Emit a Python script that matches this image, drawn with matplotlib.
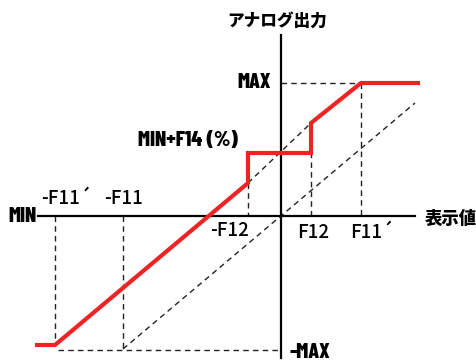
import matplotlib
matplotlib.use('Agg')
import matplotlib.pyplot as plt

# chart units: origin at the axis crossing, y up
MAX_Y = 133
MIN_MAX_Y = -133
F14_Y = 63
x_f11p, x_f11, x_mf12, x_f12, x_pf11p = -226, -158, -33, 30, 80

# red output characteristic
red_x = [-244, -226, -33, -33, 30, 30, 80, 137]
red_y = [-129, -129, 33, 63, 63, 93, 133, 133]

# dashed guide lines
diag1_x = [-33, 30]
diag1_y = [33, 93]
diag2_x = [-158, 134]
diag2_y = [-133, 113]

plt.rcParams['font.family'] = ['Noto Sans CJK JP', 'DejaVu Sans']

fig = plt.figure(figsize=(4.76, 3.6), dpi=100)
ax = fig.add_axes([0, 0, 1, 1])
ax.set_xlim(-281, 195)
ax.set_ylim(-144, 216)
ax.axis('off')

dash = dict(color='#222222', lw=1.0, ls=(0, (4, 3)))
ax.plot([0, x_pf11p], [MAX_Y, MAX_Y], **dash)
ax.plot([x_pf11p, x_pf11p], [MAX_Y, 0], **dash)
ax.plot([x_f12, x_f12], [93, 0], **dash)
ax.plot([x_mf12, x_mf12], [33, 0], **dash)
ax.plot([x_f11p, x_f11p], [0, -129], **dash)
ax.plot([x_f11, x_f11], [0, MIN_MAX_Y], **dash)
ax.plot([x_f11p + 3, 0], [MIN_MAX_Y - 1, MIN_MAX_Y - 1], **dash)
ax.plot(diag1_x, diag1_y, **dash)
ax.plot(diag2_x, diag2_y, **dash)

# axes
ax.plot([-243, 134], [0, 0], color='black', lw=1.6)
ax.plot([0, 0], [181, -142], color='black', lw=1.6)

ax.plot(red_x, red_y, color='#ee2424', lw=3.0, solid_joinstyle='miter')

narrow = dict(family=['Barlow Condensed', 'DejaVu Sans'], weight=800,
              fontsize=15.5, ha='left', va='center')
ax.text(-44, MAX_Y, 'MAX', **narrow)
ax.text(-273, 0, 'MIN', **narrow)
ax.text(-143, 75, 'MIN+F14 (%)', **narrow)
ax.text(9, -136, '-MAX', **narrow)

lab = dict(fontsize=13.5, va='center', weight='medium')
ax.text(-215, 18, '-F11´', ha='center', **lab)
ax.text(-157, 18, '-F11', ha='center', **lab)
ax.text(-51, -14, '-F12', ha='center', **lab)
ax.text(32, -16, 'F12', ha='center', **lab)
ax.text(91, -16, 'F11´', ha='center', **lab)

ax.text(-4, 195, 'アナログ出力', ha='center', va='center', fontsize=12, weight='heavy')
ax.text(170, -3, '表示値', ha='center', va='center', fontsize=12.5, weight='heavy')

fig.savefig('out.png', dpi=100)
